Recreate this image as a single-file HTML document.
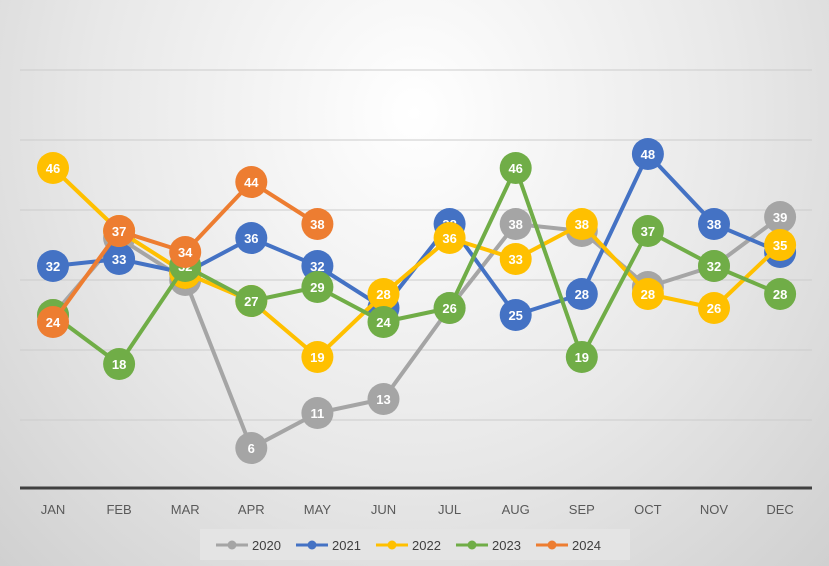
<!DOCTYPE html>
<html><head><meta charset="utf-8"><style>
body{margin:0;width:829px;height:566px;overflow:hidden;background:radial-gradient(ellipse at 50% 20%,#ffffff 0%,#e8e8e8 55%,#d0d0d0 100%);font-family:"Liberation Sans",sans-serif}
svg{position:absolute;left:0;top:0}
</style></head><body>
<svg id="c" width="829" height="566"></svg>
<script>
const months=["JAN","FEB","MAR","APR","MAY","JUN","JUL","AUG","SEP","OCT","NOV","DEC"];
const years=["2020","2021","2022","2023","2024"];
const colors=["#a5a5a5","#4472c4","#ffc000","#70ad47","#ed7d31"];
const s2020=[25,36,30,6,11,13,26,38,37,29,32,39];
const s2021=[32,33,31,36,32,26,38,25,28,48,38,34];
const s2022=[46,37,31,27,19,28,36,33,38,28,26,35];
const s2023=[25,18,32,27,29,24,26,46,19,37,32,28];
const s2024=[24,37,34,44,38];
const series=[s2020,s2021,s2022,s2023,s2024];
const gridVals=[10,20,30,40,50,60];
const NS="http://www.w3.org/2000/svg";
const svg=document.getElementById('c');
const x=i=>53+i*66.1;
const y=v=>490-v*7;
function mk(t,a,p){const e=document.createElementNS(NS,t);for(const k in a)e.setAttribute(k,a[k]);(p||svg).appendChild(e);return e;}
gridVals.forEach(v=>{const l=mk('line',{x1:20,x2:812,y1:y(v),y2:y(v),stroke:'#cccccc','stroke-width':1});

});
const ax=mk('line',{x1:20,x2:812,y1:488,y2:488,stroke:'#404040','stroke-width':3});


months.forEach((m,i)=>{const t=mk('text',{x:x(i),y:514,'text-anchor':'middle','font-size':13,fill:'#595959'});t.textContent=m;

});
series.forEach((s,k)=>{
 const g=mk('g',{});
 
 
 mk('polyline',{points:s.map((v,i)=>x(i)+','+y(v)).join(' '),fill:'none',stroke:colors[k],'stroke-width':4,'stroke-linejoin':'round'},g);
 s.forEach((v,i)=>{
  const c=mk('circle',{cx:x(i),cy:y(v),r:16,fill:colors[k]},g);
  
  
  const t=mk('text',{x:x(i),y:y(v)+5,'text-anchor':'middle','font-size':13,'font-weight':'bold',fill:'#fff'},g);
  t.textContent=v;
  
  
 });
});
const lg=mk('g',{});


mk('rect',{x:200,y:529,width:430,height:31,fill:'#e4e4e4'},lg);
years.forEach((yr,k)=>{
 const bx=216+k*80;
 const e=mk('g',{},lg);
 
 
 mk('line',{x1:bx,x2:bx+32,y1:545,y2:545,stroke:colors[k],'stroke-width':3},e);
 mk('circle',{cx:bx+16,cy:545,r:4.5,fill:colors[k]},e);
 const t=mk('text',{x:bx+36,y:550,'font-size':13,fill:'#404040'},e);t.textContent=yr;
});
</script>
</body></html>
